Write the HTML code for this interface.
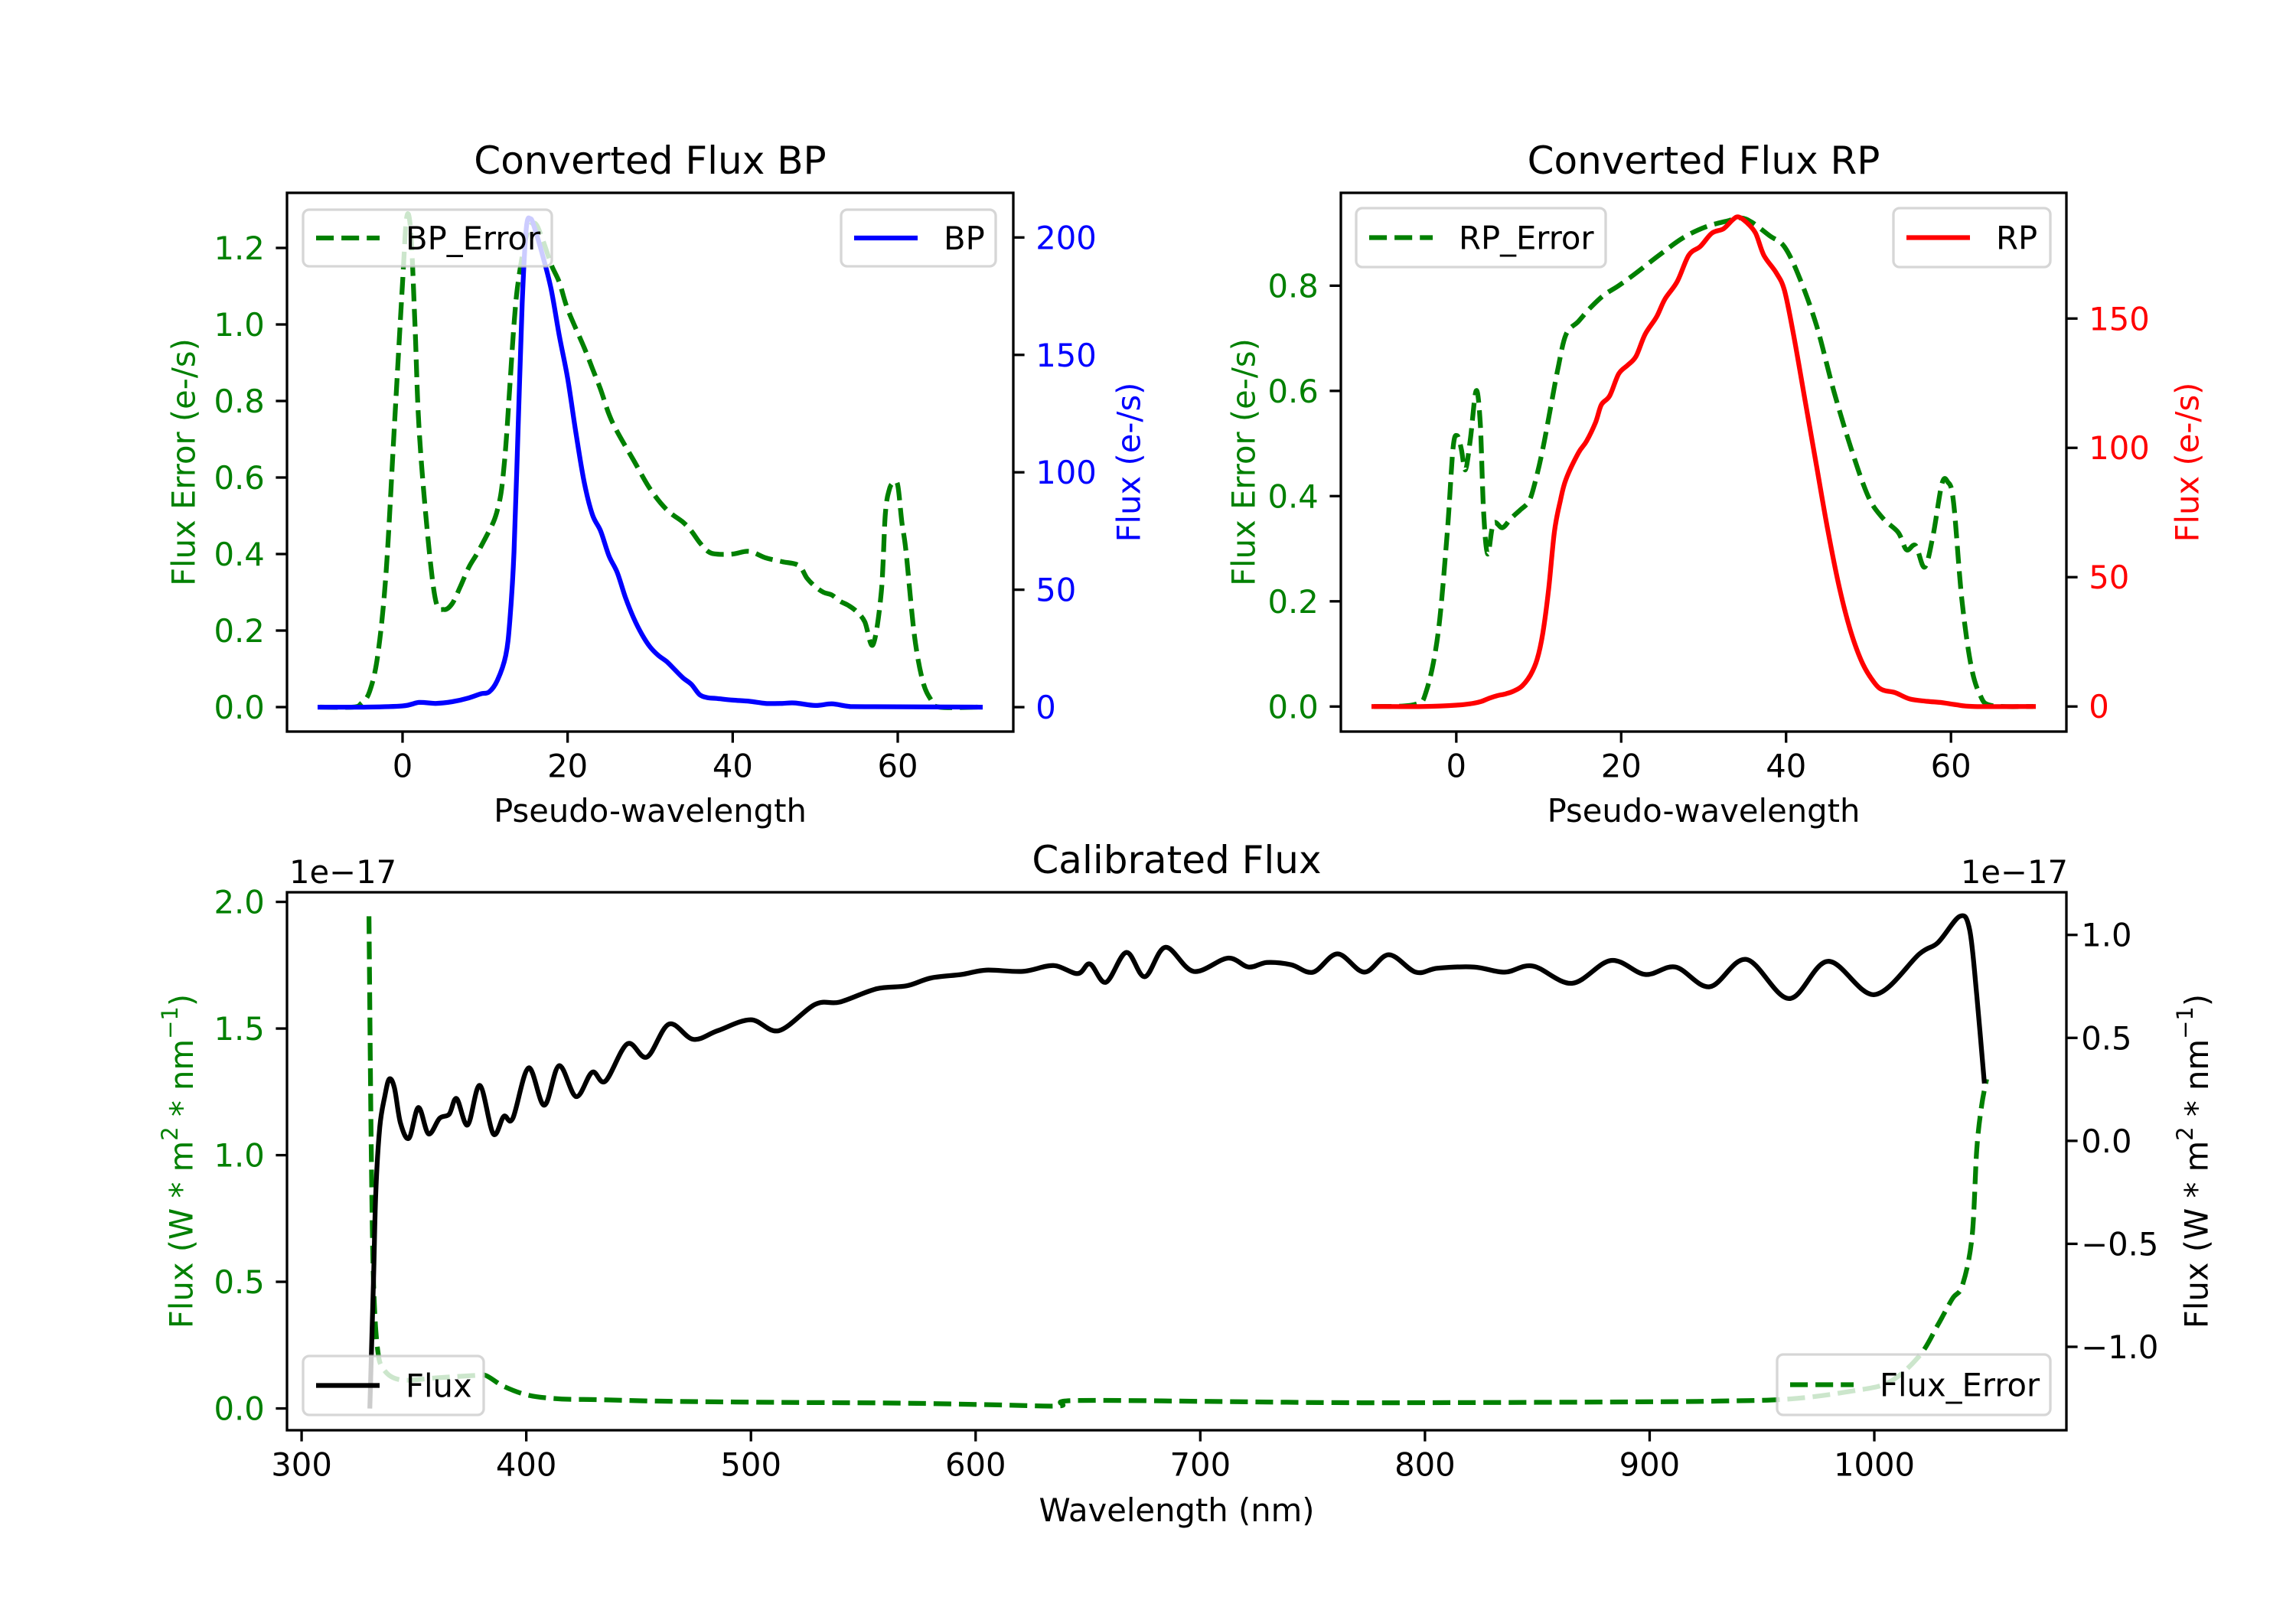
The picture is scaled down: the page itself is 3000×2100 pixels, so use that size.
<!DOCTYPE html>
<html><head><meta charset="utf-8"><style>
html,body{margin:0;padding:0;background:#fff;}
svg{display:block;font-family:"DejaVu Sans","Liberation Sans",sans-serif;}
</style></head><body>
<svg id="fig" xmlns="http://www.w3.org/2000/svg" width="3000" height="2100" viewBox="0 0 3000 2100">
<rect width="3000" height="2100" fill="#fff"/>
</svg>
<script>
// ---- BP data ----
const bpX = [-10,-5,0,2,4,6,8,9.5,10.5,11.5,12.5,13,13.5,14,14.5,15,15.5,16,17,18,19,20,21,22,23,24,25,26,27,28,29,30,31,32,33,34,35,36,37,38,40,42,44,46,47.5,50,52,54,56,70];
const bpFlux = [0,0,0.5,2,1.6,2.3,3.9,5.7,6.5,11.5,22,37,66,119,172,204,208,204,192,178,158,140,117,96,82,75,64.5,57.4,46.8,38,31,25.6,22,19.4,15.9,12.4,9.7,5.3,4,3.7,3,2.5,1.6,1.6,1.8,0.7,1.4,0.35,0.2,0];
const bpErrX = [-10,-6,-5,-4,-3,-2,-1,0,0.5,1,1.5,2,3,4,5,6,7,8,9,10,11,11.5,12,12.5,13,13.5,14,15,16,17,18,19,20,22,23,24,25,26,28,30,32,34,35,36,37,38,40,42,44,46,48,49,50,51,52,53,54,55,56,57,58,58.5,59,59.5,60,60.5,61,62,63,64,65,70];
const bpErr = [0,0,0.01,0.04,0.136,0.35,0.73,1.11,1.28,1.24,1.0,0.73,0.46,0.28,0.255,0.27,0.315,0.364,0.40,0.44,0.483,0.516,0.57,0.68,0.84,1.0,1.11,1.23,1.265,1.22,1.157,1.11,1.04,0.94,0.885,0.83,0.766,0.72,0.645,0.57,0.516,0.483,0.46,0.43,0.407,0.40,0.40,0.407,0.39,0.38,0.37,0.337,0.315,0.30,0.293,0.277,0.266,0.25,0.223,0.163,0.30,0.505,0.57,0.586,0.58,0.483,0.407,0.19,0.07,0.02,0,0];
// ---- RP data ----
const rpX = [-10,-4,0,2,3,4,5,6,7,8,9,9.8,10.5,11.2,11.9,12.6,13.3,14.8,15.8,16.9,17.6,18.6,19.7,20.8,21.8,22.9,24.3,25.3,26.8,28.2,29.6,31.0,32.4,33.5,34.2,35.2,36.3,37.3,38.8,39.8,40.9,42.3,43.7,45.1,46.5,47.9,49.3,50.8,51.8,53.2,55.0,57.1,58.9,60.6,62.8,70];
const rpFlux = [0,0,0.5,1.2,1.9,3.2,4.2,4.9,6,8,12.2,18.2,28.4,45.4,67.5,79.3,87.8,98,102.6,109.9,116.7,120.1,128.6,132,135.4,143.9,150.7,157.5,164.3,174.5,177.9,183,184.7,188.1,189.3,187.2,183,174.5,167.7,160.9,143.9,118.4,92.9,67.5,45.4,28.4,16.5,8.8,6.3,5.4,2.9,2,1.5,0.7,0,0];
const rpErrX = [-10,-5,-3.6,-2.2,-1.1,-0.4,0.1,0.6,1.1,1.7,2.4,2.9,3.3,3.8,4.5,5.6,6.6,7.7,8.8,9.5,10.5,11.6,12.3,13.3,14.8,16.2,17.9,19.7,21.8,24.6,27.5,30.3,33.1,34.5,35.9,38.0,39.8,41.6,43.7,45.8,47.9,50.0,51.8,53.6,54.6,55.7,56.8,57.8,58.9,59.6,60.3,61.3,62.4,63.5,64.9,70];
const rpErr = [0,0.004,0.031,0.14,0.33,0.49,0.515,0.49,0.45,0.507,0.6,0.54,0.373,0.29,0.348,0.34,0.357,0.373,0.39,0.423,0.49,0.582,0.64,0.707,0.732,0.757,0.782,0.80,0.824,0.858,0.891,0.912,0.924,0.929,0.92,0.895,0.874,0.816,0.724,0.599,0.49,0.398,0.357,0.331,0.298,0.306,0.265,0.323,0.423,0.427,0.39,0.206,0.081,0.023,0.002,0];
// ---- Calibrated data (units 1e-17) ----
const wlX = [330.4,332,333,334.8,337,339,341.3,344,347.8,352,356.5,361.4,365.7,369,373.9,379.3,385.3,390,394,401,408,414.6,422.2,429.3,435.2,445,453.7,463.5,474.3,485.2,499.9,512.4,528.6,539.5,555.8,569.4,580.2,593.8,604.7,621,634.6,645.4,650.9,658,667.1,675.3,684.5,697,712.2,721.5,729.6,740.4,750.2,761.1,773,783.9,795.9,805.6,821.9,835.5,848,865.4,882.8,898,911.5,926.7,943,962,979.4,1000,1020.1,1028.3,1038,1042.4,1045.6,1048.9];
const calFlux = [-1.288,-0.68,-0.254,0.066,0.215,0.30,0.258,0.087,0.013,0.162,0.034,0.109,0.13,0.205,0.077,0.269,0.034,0.119,0.109,0.354,0.173,0.365,0.215,0.333,0.29,0.471,0.407,0.567,0.493,0.535,0.588,0.535,0.663,0.674,0.738,0.753,0.791,0.808,0.829,0.823,0.851,0.812,0.859,0.77,0.915,0.797,0.94,0.823,0.887,0.844,0.866,0.855,0.819,0.908,0.819,0.904,0.819,0.838,0.844,0.819,0.849,0.765,0.876,0.808,0.844,0.748,0.881,0.691,0.872,0.71,0.908,0.962,1.09,1.026,0.706,0.29];
const errX = [330,331,332,333.7,336.4,344,360.3,376.6,382,390,401,414.6,430.9,458,512.4,566.7,610,637.3,642.7,702.4,756.7,811,892.5,930.5,963.1,990.3,1006.6,1020.1,1028.3,1034.8,1039.2,1043.5,1045.6,1047.8,1050];
const calErr = [1.943,1.02,0.503,0.243,0.156,0.113,0.121,0.13,0.13,0.087,0.052,0.038,0.035,0.029,0.024,0.021,0.014,0.01,0.031,0.028,0.023,0.023,0.026,0.029,0.038,0.069,0.104,0.208,0.33,0.434,0.486,0.677,1.023,1.197,1.30];
const pwTicks = [0,20,40,60];
const bpErrTicks = [0,0.2,0.4,0.6,0.8,1.0,1.2];
const bpTicks = [0,50,100,150,200];
const rpErrTicks = [0,0.2,0.4,0.6,0.8];
const rpTicks = [0,50,100,150];
const wlTicks = [300,400,500,600,700,800,900,1000];
const calErrTicks = [0,0.5,1.0,1.5,2.0];
const calTicks = [-1.0,-0.5,0,0.5,1.0];

const NS='http://www.w3.org/2000/svg';
const svg=document.getElementById('fig');
function el(tag,attrs,parent){const e=document.createElementNS(NS,tag);for(const k in attrs)e.setAttribute(k,attrs[k]);(parent||svg).appendChild(e);return e;}
function txt(s,attrs,parent){const e=el('text',attrs,parent);e.textContent=s;return e;}
const FS=41.7, TL=14.6, LW=3.3;
function fmtTick(v,dec){let s=v.toFixed(dec);if(v<0)s='\u2212'+s.slice(1);return s;}
function smoothPath(P){
  let d='M'+P[0][0].toFixed(1)+','+P[0][1].toFixed(1);
  for(let i=0;i<P.length-1;i++){
    const p0=P[Math.max(0,i-1)],p1=P[i],p2=P[i+1],p3=P[Math.min(P.length-1,i+2)];
    const k=1/6;
    const c1x=p1[0]+(p2[0]-p0[0])*k,c1y=p1[1]+(p2[1]-p0[1])*k;
    const c2x=p2[0]-(p3[0]-p1[0])*k,c2y=p2[1]-(p3[1]-p1[1])*k;
    d+='C'+c1x.toFixed(1)+','+c1y.toFixed(1)+' '+c2x.toFixed(1)+','+c2y.toFixed(1)+' '+p2[0].toFixed(1)+','+p2[1].toFixed(1);
  }
  return d;
}
let clipId=0;
function makeAxes(o){
  const g=el('g',{});
  
  
  const sx=v=>o.x0+(v-o.xlim[0])/(o.xlim[1]-o.xlim[0])*(o.x1-o.x0);
  const syL=v=>o.y1-(v-o.yL[0])/(o.yL[1]-o.yL[0])*(o.y1-o.y0);
  const syR=v=>o.y1-(v-o.yR[0])/(o.yR[1]-o.yR[0])*(o.y1-o.y0);
  const cid='clip'+(clipId++);
  const cp=el('clipPath',{id:cid},g);el('rect',{x:o.x0,y:o.y0,width:o.x1-o.x0,height:o.y1-o.y0},cp);
  function line(xs,ys,sy,color,dashed,name){
    const P=xs.map((x,i)=>[sx(x),sy(ys[i])]);
    const p=el('path',{d:smoothPath(P),fill:'none',stroke:color,'stroke-width':6.25,'stroke-linejoin':'round','stroke-linecap':dashed?'butt':'square','clip-path':'url(#'+cid+')'},g);
    if(dashed)p.setAttribute('stroke-dasharray','23.1,10');
    
    
  }
  o.series.forEach(s=>line(s.x,s.y,s.axis==='L'?syL:syR,s.color,s.dashed,s.name));
  const fr=el('rect',{x:o.x0,y:o.y0,width:o.x1-o.x0,height:o.y1-o.y0,fill:'none',stroke:'#000','stroke-width':LW},g);
  
  
  o.xticks.forEach(t=>{const X=sx(t);el('line',{x1:X,x2:X,y1:o.y1,y2:o.y1+TL,stroke:'#000','stroke-width':LW},g);
    const tt=txt(String(t),{x:X,y:o.y1+TL+14.6+30.5,'font-size':FS,'text-anchor':'middle',fill:'#000'},g);
    
    });
  o.yLticks.forEach(t=>{const Y=syL(t);el('line',{x1:o.x0-TL,x2:o.x0,y1:Y,y2:Y,stroke:'#000','stroke-width':LW},g);
    const tt=txt(fmtTick(t,1),{x:o.x0-TL-14.6,y:Y+15,'font-size':FS,'text-anchor':'end',fill:o.lColor},g);
    
    });
  o.yRticks.forEach(t=>{const Y=syR(t);el('line',{x1:o.x1,x2:o.x1+TL,y1:Y,y2:Y,stroke:'#000','stroke-width':LW},g);
    const tt=txt(fmtTick(t,o.rDec),{x:o.x1+TL+14.6+(o.rShift||0),y:Y+15,'font-size':FS,'text-anchor':'start',fill:o.rColor},g);
    
    });
  const ti=txt(o.title,{x:(o.x0+o.x1)/2,y:o.y0-25,'font-size':50,'text-anchor':'middle',fill:'#000'},g);
  
  
  const xl=txt(o.xlabel,{x:(o.x0+o.x1)/2,y:o.xlabY,'font-size':FS,'text-anchor':'middle',fill:'#000'},g);
  
  
  const cy=(o.y0+o.y1)/2;
  const yl=el('text',{x:o.lLabX,y:cy,'font-size':FS,'text-anchor':'middle','dominant-baseline':'central',fill:o.lColor,transform:'rotate(-90 '+o.lLabX+' '+cy+')'},g);
  yl.innerHTML=o.lLabel;
  
  
  const yr=el('text',{x:o.rLabX,y:cy,'font-size':FS,'text-anchor':'middle','dominant-baseline':'central',fill:o.rColor,transform:'rotate(-90 '+o.rLabX+' '+cy+')'},g);
  yr.innerHTML=o.rLabel;
  
  
  o.legends.forEach(L=>{
    const lg=el('g',{},g);
    
    
    el('rect',{x:L.x0,y:L.y0,width:L.x1-L.x0,height:L.y1-L.y0,rx:8,fill:'#fff','fill-opacity':0.8,stroke:'#ccc','stroke-opacity':0.8,'stroke-width':3.3},lg);
    const my=(L.y0+L.y1)/2;
    const h=el('line',{x1:L.x0+17,x2:L.x0+100,y1:my,y2:my,stroke:L.color,'stroke-width':6.25},lg);
    if(L.dashed)h.setAttribute('stroke-dasharray','23.1,10');
    txt(L.label,{x:L.x0+134,y:my+15,'font-size':FS,fill:'#000'},lg);
  });
  return g;
}
const SUP2='<tspan font-size="29" dy="-15">2</tspan><tspan dy="15"> * nm</tspan><tspan font-size="29" dy="-15">\u22121</tspan><tspan dy="15">)</tspan>';
makeAxes({name:'bp-chart',x0:375,x1:1324,y0:252,y1:956,xlim:[-14,74],yL:[-0.064,1.344],yR:[-10.4,219],
  xticks:pwTicks,yLticks:bpErrTicks,yRticks:bpTicks,rDec:0,lColor:'#008000',rColor:'#0000ff',
  title:'Converted Flux BP',xlabel:'Pseudo-wavelength',xlabY:1074,lLabX:240,rLabX:1475,
  lLabel:'Flux Error (e-/s)',rLabel:'Flux (e-/s)',
  series:[{x:bpErrX,y:bpErr,axis:'L',color:'#008000',dashed:true,name:'bp-error-line'},{x:bpX,y:bpFlux,axis:'R',color:'#0000ff',dashed:false,name:'bp-line'}],
  legends:[{x0:396,x1:721,y0:274,y1:348,color:'#008000',dashed:true,label:'BP_Error'},{x0:1099,x1:1301,y0:274,y1:348,color:'#0000ff',dashed:false,label:'BP'}]});
makeAxes({name:'rp-chart',x0:1752,x1:2700,y0:252,y1:956,xlim:[-14,74],yL:[-0.0476,0.9765],yR:[-9.7,198.6],
  xticks:pwTicks,yLticks:rpErrTicks,yRticks:rpTicks,rDec:0,lColor:'#008000',rColor:'#ff0000',
  title:'Converted Flux RP',xlabel:'Pseudo-wavelength',xlabY:1074,lLabX:1625,rLabX:2858,
  lLabel:'Flux Error (e-/s)',rLabel:'Flux (e-/s)',
  series:[{x:rpErrX,y:rpErr,axis:'L',color:'#008000',dashed:true,name:'rp-error-line'},{x:rpX,y:rpFlux,axis:'R',color:'#ff0000',dashed:false,name:'rp-line'}],
  legends:[{x0:1772,x1:2098,y0:272,y1:349,color:'#008000',dashed:true,label:'RP_Error'},{x0:2474,x1:2679,y0:272,y1:349,color:'#ff0000',dashed:false,label:'RP'}]});
makeAxes({name:'calibrated-chart',x0:375,x1:2700,y0:1166,y1:1869,xlim:[293.5,1085.5],yL:[-0.086,2.038],yR:[-1.405,1.207],
  xticks:wlTicks,yLticks:calErrTicks,yRticks:calTicks,rDec:1,rShift:-10,lColor:'#008000',rColor:'#000000',
  title:'Calibrated Flux',xlabel:'Wavelength (nm)',xlabY:1988,lLabX:237,rLabX:2870,
  lLabel:'Flux (W * m'+SUP2,rLabel:'Flux (W * m'+SUP2,
  series:[{x:errX,y:calErr,axis:'L',color:'#008000',dashed:true,name:'flux-error-line'},{x:wlX,y:calFlux,axis:'R',color:'#000000',dashed:false,name:'flux-line'}],
  legends:[{x0:396,x1:632,y0:1772,y1:1849,color:'#000',dashed:false,label:'Flux'},{x0:2322,x1:2679,y0:1770,y1:1849,color:'#008000',dashed:true,label:'Flux_Error'}]});
const o1=txt('1e\u221217',{x:378,y:1154,'font-size':FS,fill:'#000'});


const o2=txt('1e\u221217',{x:2702,y:1154,'font-size':FS,'text-anchor':'end',fill:'#000'});


</script>
</body></html>
